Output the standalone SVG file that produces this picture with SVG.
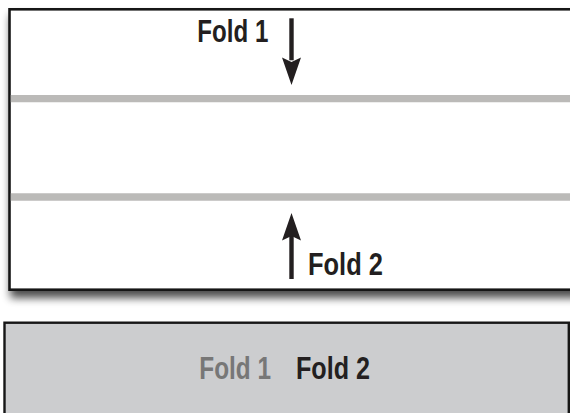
<svg xmlns="http://www.w3.org/2000/svg" width="570" height="413" viewBox="0 0 570 413">
<defs>
<filter id="sh" x="-5%" y="-5%" width="115%" height="125%">
<feGaussianBlur in="SourceAlpha" stdDeviation="4"/>
<feOffset dx="2" dy="7" result="b"/>
<feComponentTransfer><feFuncA type="linear" slope="0.7"/></feComponentTransfer>
<feMerge><feMergeNode/><feMergeNode in="SourceGraphic"/></feMerge>
</filter>
<style>
.lbl{font-family:"Liberation Sans",Arial,sans-serif;font-weight:bold;font-size:31px;fill:#231f20}
.fold{stroke:#bbbab8;stroke-width:7.3}
.arr{fill:#231f20}
</style>
</defs>
<rect width="570" height="413" fill="#ffffff"/>
<g id="sheet">
<rect x="9.5" y="9.3" width="600" height="280.4" fill="#ffffff" stroke="#161616" stroke-width="2.6" filter="url(#sh)"/>
<line class="fold" x1="10.8" y1="98.7" x2="570" y2="98.7"/>
<line class="fold" x1="10.8" y1="197" x2="570" y2="197"/>
</g>
<g id="fold1">
<text class="lbl" x="197.3" y="41.7" textLength="71" lengthAdjust="spacingAndGlyphs">Fold 1</text>
</g>
<g id="fold2">
<text class="lbl" x="308" y="275" textLength="75" lengthAdjust="spacingAndGlyphs">Fold 2</text>
</g>
<g id="connectors">
<rect class="arr" x="289.3" y="18.3" width="4.4" height="42"/>
<polygon class="arr" points="282,57.5 291.5,62 301,57.5 291.5,85"/>
<rect class="arr" x="289.3" y="236" width="4.4" height="43"/>
<polygon class="arr" points="282,240.5 291.5,236 301,240.5 291.5,213"/>
</g>
<g id="result">
<rect x="4.5" y="322.7" width="564.3" height="120" fill="#cccdcf" stroke="#161616" stroke-width="2.4"/>
<text class="lbl" x="199.3" y="379.3" textLength="71.7" lengthAdjust="spacingAndGlyphs" style="fill:#777777">Fold 1</text>
<text class="lbl" x="296" y="379.3" textLength="74" lengthAdjust="spacingAndGlyphs">Fold 2</text>
</g>
</svg>
